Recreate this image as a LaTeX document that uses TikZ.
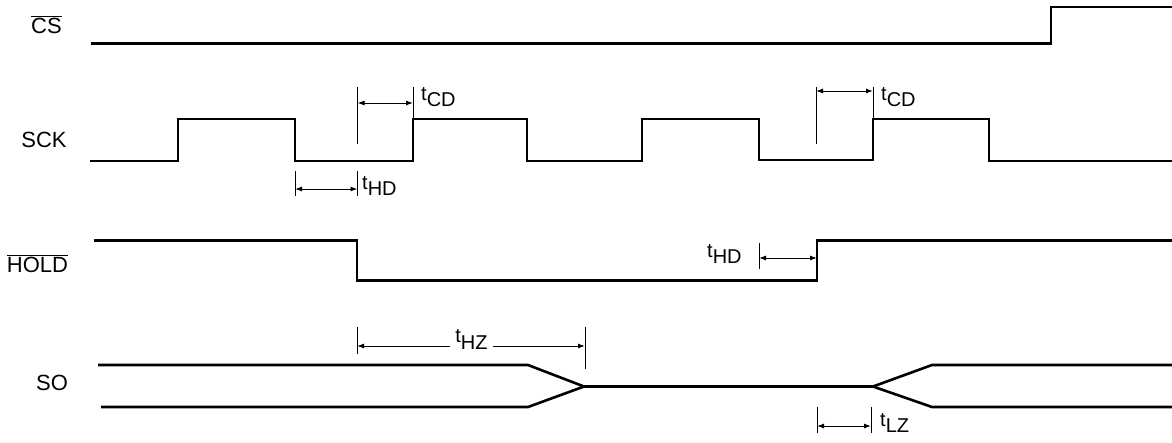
\documentclass[tikz,border=0pt]{standalone}
\usepackage{fontspec}
\setmainfont{Liberation Sans}
\usetikzlibrary{arrows.meta}
\newcommand{\tsub}[2]{#1\raisebox{-6.5pt}{#2}}
\begin{document}
\begin{tikzpicture}[x=1pt,y=-1pt,
  sig/.style={line width=2.6pt, line join=miter},
  dimline/.style={line width=1pt},
  dimarrow/.style={line width=1pt, {Latex[length=7pt,width=5pt]}-{Latex[length=7pt,width=5pt]}},
  siglabel/.style={font=\fontsize{22}{22}\selectfont, inner sep=0pt},
  tlabel/.style={font=\fontsize{20}{20}\selectfont, inner sep=0pt, anchor=base west}]
\useasboundingbox (0,0) rectangle (1172,442);

% signal names
\node[siglabel] (lcs) at (46.5,24.5) {$\overline{\mbox{CS}}$};
\node[siglabel] (lsck) at (44,139.5) {SCK};
\node[siglabel] (lhold) at (37.5,263.5) {$\overline{\mbox{HOLD}}$};
\node[siglabel] (lso) at (52,382.5) {SO};

% CS
\draw[sig] (91,43.5) -- (1051,43.5) -- (1051,7) -- (1175,7);
% SCK
\draw[sig] (90,161) -- (178,161) -- (178,119) -- (295,119) -- (295,161)
  -- (413,161) -- (413,119) -- (527,119) -- (527,161) -- (642,161)
  -- (642,119) -- (759,119) -- (759,160) -- (873,160) -- (873,119)
  -- (989,119) -- (989,161) -- (1175,161);
% HOLD
\draw[sig] (94,240.7) -- (357,240.7) -- (357,280.7) -- (817,280.7)
  -- (817,240.7) -- (1175,240.7);
% SO
\draw[sig] (98,365) -- (528,365) -- (584,386.5) -- (873,386.5) -- (932,365) -- (1175,365);
\draw[sig] (101,407) -- (528,407) -- (584,386.5);
\draw[sig] (873,386.5) -- (932,407) -- (1175,407);

% tCD (first)
\coordinate (cd1a) at (357.5,103);
\coordinate (cd1b) at (413,103);
\draw[dimline] (357.5,87) -- (357.5,144);
\draw[dimline] (413,87) -- (413,119);
\draw[dimarrow] (cd1a) -- (cd1b);
\node[tlabel] (tcd1) at (421,100) {\tsub{t}{CD}};

% tCD (second)
\coordinate (cd2a) at (816,91);
\coordinate (cd2b) at (873,91);
\draw[dimline] (816,87) -- (816,144);
\draw[dimline] (873,87) -- (873,119);
\draw[dimarrow] (cd2a) -- (cd2b);
\node[tlabel] (tcd2) at (881,100) {\tsub{t}{CD}};

% tHD (first)
\coordinate (hd1a) at (295,189);
\coordinate (hd1b) at (357.5,189);
\draw[dimline] (295,171) -- (295,196);
\draw[dimline] (357.5,171) -- (357.5,196);
\draw[dimarrow] (hd1a) -- (hd1b);
\node[tlabel] (thd1) at (362,189) {\tsub{t}{HD}};

% tHD (second)
\coordinate (hd2a) at (759,258);
\coordinate (hd2b) at (817,258);
\draw[dimline] (759,243) -- (759,269);
\draw[dimarrow] (hd2a) -- (hd2b);
\node[tlabel] (thd2) at (707,257) {\tsub{t}{HD}};

% tHZ
\coordinate (hza) at (357,346);
\coordinate (hzb) at (585,346);
\draw[dimline] (357,327) -- (357,354);
\draw[dimline] (585,327) -- (585,369);
\draw[dimarrow] (hza) -- (hzb);
\node[tlabel, anchor=base, fill=white, inner xsep=5pt] (thz) at (471.5,342.5) {\tsub{t}{HZ}};

% tLZ
\coordinate (lza) at (817,426);
\coordinate (lzb) at (871,426);
\draw[dimline] (817,407) -- (817,433);
\draw[dimline] (871,407) -- (871,433);
\draw[dimarrow] (lza) -- (lzb);
\node[tlabel] (tlz) at (880,426) {\tsub{t}{LZ}};
\end{tikzpicture}
\end{document}
